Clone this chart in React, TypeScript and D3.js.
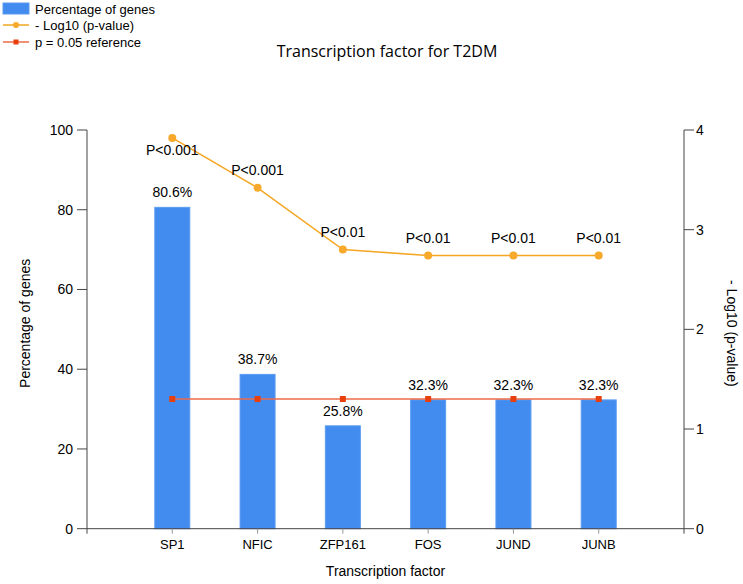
import React from "react";
import * as d3 from "d3";

const categories = ["SP1", "NFIC", "ZFP161", "FOS", "JUND", "JUNB"];
const percentages = [80.6, 38.7, 25.8, 32.3, 32.3, 32.3];
const logP = [3.92, 3.42, 2.8, 2.74, 2.74, 2.74];
const pLabels = ["P<0.001", "P<0.001", "P<0.01", "P<0.01", "P<0.01", "P<0.01"];
const pLabelBelow = [true, false, false, false, false, false];
const refValue = -Math.log10(0.05);
const leftTicks = [0, 20, 40, 60, 80, 100];
const rightTicks = [0, 1, 2, 3, 4];

const W = 743;
const H = 584;
const x0 = 87, x1 = 684, yTop = 130, yBot = 528.7;
const font = "Arial, 'Liberation Sans', sans-serif";

export default function App() {
  const x = d3.scalePoint<string>().domain(categories).range([x0, x1]).padding(1);
  const yL = d3.scaleLinear().domain([0, 100]).range([yBot, yTop]);
  const yR = d3.scaleLinear().domain([0, 4]).range([yBot, yTop]);
  const barW = 35;
  const line = d3.line<number>().x((_, i) => x(categories[i])!).y((d) => yR(d));
  const refLine = d3.line<string>().x((c) => x(c)!).y(() => yR(refValue));

  return (
    <svg width={W} height={H} style={{ position: "absolute", left: 0, top: 0, background: "#fff" }} fontFamily={font}>
      {/* Legend */}
      <g fontSize={13} fill="#000">
        <rect x={3} y={3} width={26} height={11} fill="#428BEF" stroke="#5b9bf0" />
        <text x={35} y={13.5}>Percentage of genes</text>
        <line x1={3} x2={29} y1={25} y2={25} stroke="#F5A623" strokeWidth={1.5} />
        <circle cx={16} cy={25} r={3} fill="#F7A92B" />
        <text x={35} y={30}>- Log10 (p-value)</text>
        <line x1={3} x2={29} y1={42} y2={42} stroke="#EE6A4A" strokeWidth={1.5} />
        <rect x={13.5} y={39.5} width={5} height={5} fill="#E8400C" />
        <text x={35} y={47}>p = 0.05 reference</text>
      </g>

      {/* Title */}
      <text x={387} y={57} textAnchor="middle" fontSize={16} fontFamily="'Open Sans', 'Noto Sans', sans-serif">
        Transcription factor for T2DM
      </text>

      {/* Bars */}
      {categories.map((c, i) => (
        <rect key={c} x={x(c)! - barW / 2} y={yL(percentages[i])} width={barW} height={yBot - yL(percentages[i])}
          fill="#428BEF" stroke="#5b9bf0" strokeWidth={1} />
      ))}
      {categories.map((c, i) => (
        <text key={c + "l"} x={x(c)!} y={yL(percentages[i]) - 10} textAnchor="middle" fontSize={14}>
          {percentages[i].toFixed(1)}%
        </text>
      ))}

      {/* Reference line */}
      <path d={refLine(categories)!} fill="none" stroke="#EE6A4A" strokeWidth={1.5} />
      {categories.map((c) => (
        <rect key={c + "r"} x={x(c)! - 3} y={yR(refValue) - 3} width={6} height={6} fill="#E8400C" />
      ))}

      {/* -log10 p line */}
      <path d={line(logP)!} fill="none" stroke="#F5A623" strokeWidth={1.5} />
      {categories.map((c, i) => (
        <circle key={c + "p"} cx={x(c)!} cy={yR(logP[i])} r={4} fill="#F7A92B" />
      ))}
      {categories.map((c, i) => (
        <text key={c + "pl"} x={x(c)!} y={pLabelBelow[i] ? yR(logP[i]) + 17 : yR(logP[i]) - 13}
          textAnchor="middle" fontSize={14}>
          {pLabels[i]}
        </text>
      ))}

      {/* Left axis */}
      <g stroke="#444" fill="none">
        <line x1={x0} x2={x0} y1={yTop} y2={yBot} />
        {leftTicks.map((t) => (
          <line key={t} x1={x0 - 10} x2={x0} y1={yL(t)} y2={yL(t)} />
        ))}
      </g>
      {leftTicks.map((t) => (
        <text key={t} x={73} y={yL(t) + 5} textAnchor="end" fontSize={14}>{t}</text>
      ))}
      <text transform={`translate(30,${(yTop + yBot) / 2 - 6}) rotate(-90)`} textAnchor="middle" fontSize={14}>
        Percentage of genes
      </text>

      {/* Right axis */}
      <g stroke="#444" fill="none">
        <line x1={x1} x2={x1} y1={yTop} y2={yBot} />
        {rightTicks.map((t) => (
          <line key={t} x1={x1} x2={x1 + 10} y1={yR(t)} y2={yR(t)} />
        ))}
      </g>
      {rightTicks.map((t) => (
        <text key={t} x={696} y={yR(t) + 5} textAnchor="start" fontSize={14}>{t}</text>
      ))}
      <text transform={`translate(727,${(yTop + yBot) / 2 + 4}) rotate(90)`} textAnchor="middle" fontSize={14}>
        - Log10 (p-value)
      </text>

      {/* Bottom axis */}
      <g stroke="#444" fill="none">
        <line x1={x0} x2={x1} y1={yBot} y2={yBot} />
        <line x1={x0} x2={x0} y1={yBot} y2={yBot + 5} />
        <line x1={x1} x2={x1} y1={yBot} y2={yBot + 5} />
        {categories.map((c) => (
          <line key={c} x1={x(c)!} x2={x(c)!} y1={yBot} y2={yBot + 5} stroke="#999" />
        ))}
      </g>
      {categories.map((c) => (
        <text key={c} x={x(c)!} y={549} textAnchor="middle" fontSize={13}>{c}</text>
      ))}
      <text x={(x0 + x1) / 2} y={576} textAnchor="middle" fontSize={14}>Transcription factor</text>
    </svg>
  );
}
